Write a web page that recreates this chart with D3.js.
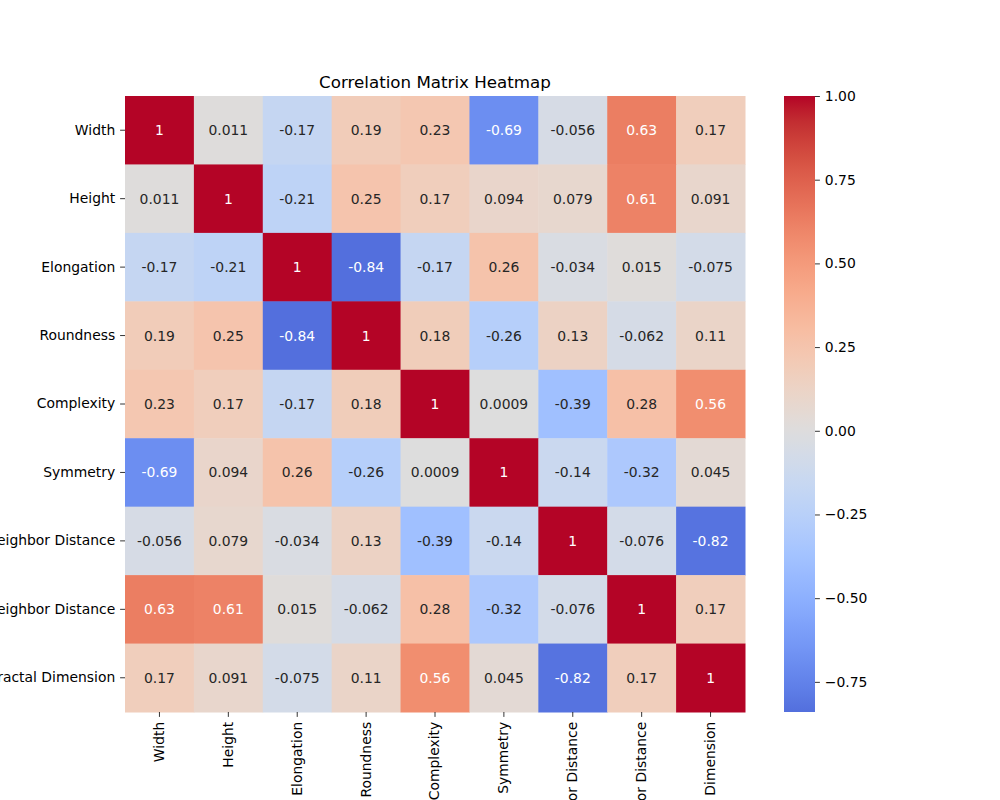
<!DOCTYPE html>
<html>
<head>
<meta charset="utf-8">
<script src="https://cdn.jsdelivr.net/npm/d3@7"></script>
<style>
  body { margin: 0; background: #fff; }
  svg { display: block; font-family: "DejaVu Sans", sans-serif; }
</style>
</head>
<body>
<div id="chart"></div>
<script>
const labels = ["Width", "Height", "Elongation", "Roundness", "Complexity", "Symmetry",
  "Nearest Neighbor Distance", "Farthest Neighbor Distance", "Fractal Dimension"];

const rowWidth      = [1, 0.011, -0.17, 0.19, 0.23, -0.69, -0.056, 0.63, 0.17];
const rowHeight     = [0.011, 1, -0.21, 0.25, 0.17, 0.094, 0.079, 0.61, 0.091];
const rowElongation = [-0.17, -0.21, 1, -0.84, -0.17, 0.26, -0.034, 0.015, -0.075];
const rowRoundness  = [0.19, 0.25, -0.84, 1, 0.18, -0.26, 0.13, -0.062, 0.11];
const rowComplexity = [0.23, 0.17, -0.17, 0.18, 1, 0.0009, -0.39, 0.28, 0.56];
const rowSymmetry   = [-0.69, 0.094, 0.26, -0.26, 0.0009, 1, -0.14, -0.32, 0.045];
const rowNearest    = [-0.056, 0.079, -0.034, 0.13, -0.39, -0.14, 1, -0.076, -0.82];
const rowFarthest   = [0.63, 0.61, 0.015, -0.062, 0.28, -0.32, -0.076, 1, 0.17];
const rowFractal    = [0.17, 0.091, -0.075, 0.11, 0.56, 0.045, -0.82, 0.17, 1];

const colorbarTicks = [1.0, 0.75, 0.5, 0.25, 0.0, -0.25, -0.5, -0.75];
const chartTitle = "Correlation Matrix Heatmap";

const matrix = [rowWidth, rowHeight, rowElongation, rowRoundness, rowComplexity,
  rowSymmetry, rowNearest, rowFarthest, rowFractal];

// matplotlib "coolwarm" (Moreland) control points
const coolwarm = [
  [59,76,192],[68,90,204],[77,104,215],[87,117,225],[98,130,234],[108,142,241],
  [119,154,247],[130,165,251],[141,176,254],[152,185,255],[163,194,255],[174,201,253],
  [184,208,249],[194,213,244],[204,217,238],[213,219,230],[221,221,221],[229,216,209],
  [236,211,197],[241,204,185],[245,196,173],[247,187,160],[247,177,148],[247,166,135],
  [244,154,123],[241,141,111],[236,127,99],[229,112,88],[222,96,77],[213,80,66],
  [203,62,56],[192,40,47],[180,4,38]
].map(c => d3.rgb(c[0], c[1], c[2]).formatHex());
const cmap = d3.scaleLinear()
  .domain(coolwarm.map((_, i) => i / (coolwarm.length - 1)))
  .range(coolwarm)
  .interpolate(d3.interpolateRgb)
  .clamp(true);

// centered at 0 (seaborn center=0): colours span symmetric range, data range shown
const allVals = matrix.flat();
const vmin = d3.min(allVals), vmax = d3.max(allVals);
const center = 0;
const vrange = Math.max(vmax - center, center - vmin);
const norm = d3.scaleLinear().domain([center - vrange, center + vrange]).range([0, 1]);
const colorOf = v => cmap(norm(v));

const W = 1000, H = 800;
const mLeft = 125, mRight = 745, mTop = 96, mBottom = 712;

const svg = d3.select("#chart").append("svg").attr("width", W).attr("height", H);

const x = d3.scaleBand().domain(labels).range([mLeft, mRight]).padding(0);
const y = d3.scaleBand().domain(labels).range([mTop, mBottom]).padding(0);

const cells = [];
matrix.forEach((row, i) => row.forEach((v, j) => cells.push({r: labels[i], c: labels[j], v})));

svg.append("g").selectAll("rect").data(cells).join("rect")
  .attr("x", d => x(d.c))
  .attr("y", d => y(d.r))
  .attr("width", x.bandwidth() + 0.5)
  .attr("height", y.bandwidth() + 0.5)
  .attr("fill", d => colorOf(d.v));

function relLum(hex) {
  const c = d3.rgb(hex);
  const f = u => { u /= 255; return u <= 0.03928 ? u / 12.92 : Math.pow((u + 0.055) / 1.055, 2.4); };
  return 0.2126 * f(c.r) + 0.7152 * f(c.g) + 0.0722 * f(c.b);
}

svg.append("g").selectAll("text").data(cells).join("text")
  .attr("x", d => x(d.c) + x.bandwidth() / 2)
  .attr("y", d => y(d.r) + y.bandwidth() / 2)
  .attr("text-anchor", "middle")
  .attr("dominant-baseline", "central")
  .attr("font-size", "13.9px")
  .attr("fill", d => relLum(colorOf(d.v)) > 0.408 ? "#262626" : "#ffffff")
  .text(d => String(d.v));

// axes
const axisFont = "13.9px";
const yAxis = svg.append("g").attr("transform", `translate(${mLeft},0)`)
  .call(d3.axisLeft(y).tickSize(4.9).tickPadding(4.9));
const xAxis = svg.append("g").attr("transform", `translate(0,${mBottom})`)
  .call(d3.axisBottom(x).tickSize(4.9).tickPadding(4.9));
[yAxis, xAxis].forEach(a => {
  a.select(".domain").remove();
  a.selectAll(".tick line").attr("stroke", "#000").attr("stroke-width", 0.8);
  a.selectAll("text").attr("font-size", axisFont).attr("fill", "#000")
    .attr("font-family", "DejaVu Sans, sans-serif");
});
xAxis.selectAll("text")
  .attr("transform", "rotate(-90)")
  .attr("text-anchor", "end")
  .attr("dy", "0.32em")
  .attr("x", -9.8)
  .attr("y", 0);

// title
svg.append("text")
  .attr("x", (mLeft + mRight) / 2)
  .attr("y", mTop - 8.3)
  .attr("text-anchor", "middle")
  .attr("font-size", "16.7px")
  .attr("fill", "#000")
  .text(chartTitle);

// colorbar (shows data range vmin..vmax with centered colours)
const cbLeft = 784, cbRight = 815;
const cbScale = d3.scaleLinear().domain([vmin, vmax]).range([mBottom, mTop]);
const defs = svg.append("defs");
const grad = defs.append("linearGradient").attr("id", "cbgrad")
  .attr("x1", 0).attr("y1", 1).attr("x2", 0).attr("y2", 0);
d3.range(0, 1.0001, 0.02).forEach(t => {
  const v = vmin + t * (vmax - vmin);
  grad.append("stop").attr("offset", t).attr("stop-color", colorOf(v));
});
svg.append("rect")
  .attr("x", cbLeft).attr("y", mTop)
  .attr("width", cbRight - cbLeft).attr("height", mBottom - mTop)
  .attr("fill", "url(#cbgrad)");
const cbAxis = svg.append("g").attr("transform", `translate(${cbRight},0)`)
  .call(d3.axisRight(cbScale).tickValues(colorbarTicks).tickSize(4.9).tickPadding(4.9)
    .tickFormat(d => d3.format(".2f")(d)));
cbAxis.select(".domain").remove();
cbAxis.selectAll(".tick line").attr("stroke", "#000").attr("stroke-width", 0.8);
cbAxis.selectAll("text").attr("font-size", axisFont).attr("fill", "#000")
  .attr("font-family", "DejaVu Sans, sans-serif");
</script>
</body>
</html>
